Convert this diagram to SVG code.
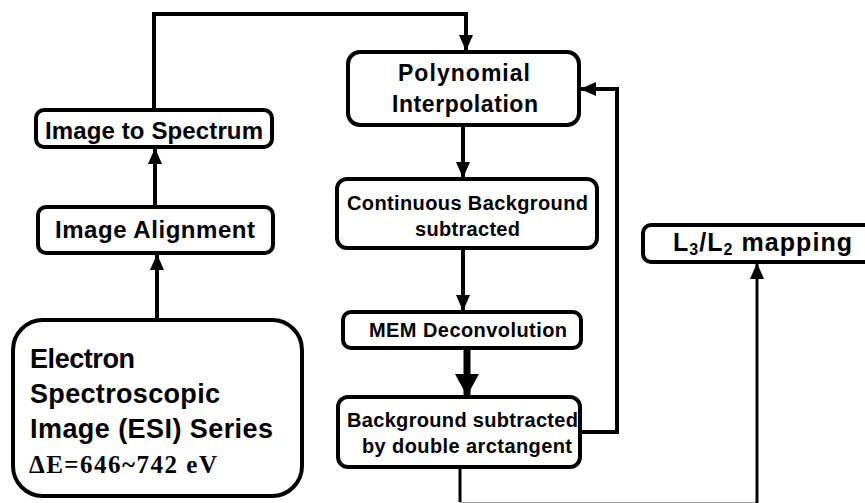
<svg xmlns="http://www.w3.org/2000/svg" width="865" height="503" viewBox="0 0 865 503">
<style>
.box{fill:#fff;stroke:#000;stroke-width:4}
.t{font-family:"Liberation Sans",Arial,sans-serif;font-weight:bold;fill:#000}
.c{stroke:#000;stroke-width:4;fill:none}
</style>
<defs>
<marker id="ah" markerUnits="userSpaceOnUse" markerWidth="16" markerHeight="16" viewBox="0 0 16 16" refX="15" refY="8" orient="auto">
<path d="M0,1 L16,8 L0,15 Z" fill="#000"/>
</marker>
<marker id="ahb" markerUnits="userSpaceOnUse" markerWidth="22" markerHeight="26" viewBox="0 0 22 26" refX="21" refY="13" orient="auto">
<path d="M0,1 L22,13 L0,25 Z" fill="#000"/>
</marker>
</defs>
<rect width="865" height="503" fill="#fff"/>
<g id="connectors">
<path class="c" d="M154,110 V14 H466 V50" marker-end="url(#ah)"/>
<path class="c" d="M155,207 V149" marker-end="url(#ah)"/>
<path class="c" d="M157,320 V255" marker-end="url(#ah)"/>
<path class="c" d="M463,125 V177" marker-end="url(#ah)"/>
<path class="c" d="M463,248 V310" marker-end="url(#ah)"/>
<path class="c" style="stroke-width:7" d="M467,348 V395" marker-end="url(#ahb)"/>
<path class="c" d="M580,432 H617 V89 H581" marker-end="url(#ah)"/>
<path class="c" style="stroke-width:3" d="M460,467 V502"/>
<line x1="460" y1="502.5" x2="757" y2="502.5" stroke="#999" stroke-width="1"/>
<path class="c" style="stroke-width:3" d="M757,503 V264" marker-end="url(#ah)"/>
</g>
<g id="image-to-spectrum">
<rect class="box" x="36" y="110" width="236" height="37" rx="8"/>
<text class="t" x="45" y="139" font-size="24" textLength="218" lengthAdjust="spacing">Image to Spectrum</text>
</g>
<g id="image-alignment">
<rect class="box" x="38" y="207" width="235" height="46" rx="8"/>
<text class="t" x="55" y="238" font-size="24" textLength="200" lengthAdjust="spacing">Image Alignment</text>
</g>
<g id="esi-series">
<rect class="box" x="13" y="320" width="289" height="176" rx="30"/>
<text class="t" x="30" y="368" font-size="27" textLength="105" lengthAdjust="spacing">Electron</text>
<text class="t" x="30" y="403" font-size="27" textLength="190" lengthAdjust="spacing">Spectroscopic</text>
<text class="t" x="30" y="438" font-size="27" textLength="243" lengthAdjust="spacing">Image (ESI) Series</text>
<text x="29" y="473" font-family="'Liberation Serif','Times New Roman',serif" font-weight="bold" font-size="25" textLength="188" lengthAdjust="spacing">ΔE=646~742 eV</text>
</g>
<g id="polynomial-interpolation">
<rect class="box" x="348" y="52" width="231" height="73" rx="12"/>
<text class="t" x="398" y="81" font-size="23" textLength="132" lengthAdjust="spacing">Polynomial</text>
<text class="t" x="392" y="112" font-size="23" textLength="146" lengthAdjust="spacing">Interpolation</text>
</g>
<g id="continuous-background">
<rect class="box" x="337" y="179" width="260" height="69" rx="10"/>
<text class="t" x="347" y="210" font-size="20" textLength="241" lengthAdjust="spacing">Continuous Background</text>
<text class="t" x="415" y="236" font-size="20" textLength="105" lengthAdjust="spacing">subtracted</text>
</g>
<g id="mem-deconvolution">
<rect class="box" x="343" y="312" width="238" height="36" rx="8"/>
<text class="t" x="369" y="337" font-size="20" textLength="198" lengthAdjust="spacing">MEM Deconvolution</text>
</g>
<g id="background-subtracted">
<rect class="box" x="338" y="397" width="242" height="70" rx="10"/>
<text class="t" x="347" y="427" font-size="20" textLength="231" lengthAdjust="spacing">Background subtracted</text>
<text class="t" x="362" y="453" font-size="20" textLength="210" lengthAdjust="spacing">by double arctangent</text>
</g>
<g id="l3-l2-mapping">
<rect class="box" x="643" y="225" width="240" height="37" rx="8"/>
<text class="t" x="673" y="251" font-size="25" textLength="179" lengthAdjust="spacing">L<tspan font-size="16" dy="4">3</tspan><tspan dy="-4">/L</tspan><tspan font-size="16" dy="4">2</tspan><tspan dy="-4"> mapping</tspan></text>
</g>
</svg>
